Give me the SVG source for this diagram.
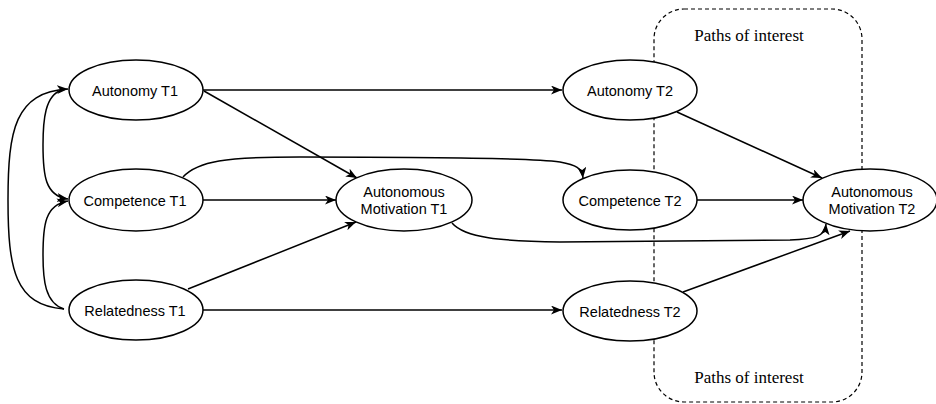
<svg xmlns="http://www.w3.org/2000/svg" width="936" height="404" viewBox="0 0 936 404">
<defs>
<style>
.node ellipse{fill:#fff;stroke:#000;stroke-width:1.5}
.node text{font-family:"Liberation Sans",Arial,sans-serif;font-size:14.5px;fill:#000;text-anchor:middle}
.edge{fill:none;stroke:#000;stroke-width:1.5;marker-end:url(#arr)}
.box{fill:none;stroke:#000;stroke-width:1.2;stroke-dasharray:4 3}
.lbl{font-family:"Liberation Serif","Times New Roman",serif;font-size:17px;fill:#000;text-anchor:middle}
</style>
<marker id="arr" markerUnits="userSpaceOnUse" markerWidth="12" markerHeight="10" refX="11" refY="4.5" orient="auto">
<path d="M0,0 L11,4.5 L0,9 L3,4.5 Z" fill="#000"/>
</marker>
</defs>
<rect width="936" height="404" fill="#fff"/>
<g id="paths-of-interest">
<rect class="box" x="654" y="9" width="208" height="393" rx="30" ry="30"/>
<text class="lbl" x="749" y="41">Paths of interest</text>
<text class="lbl" x="749" y="383">Paths of interest</text>
</g>
<g id="connectors">
<path class="edge" d="M203,90 L562,90"/>
<path class="edge" d="M204,91 L357,178"/>
<path class="edge" d="M203,200 L336,200"/>
<path class="edge" d="M188,289 L356,222"/>
<path class="edge" d="M203,310 L562,310"/>
<path class="edge" d="M183,177 C198,161 225,157 300,157 C420,157 530,158 560,162 C576,165 582,168 583,178"/>
<path class="edge" d="M452,223 C465,238 500,241 560,242 L790,240 C816,239 825,236 826,224"/>
<path class="edge" d="M677,112 L822,178"/>
<path class="edge" d="M697,200 L803,200"/>
<path class="edge" d="M683,292 L850,231"/>
<path class="edge" d="M64,309 C15,305 8,270 8,200 C8,130 15,92 68,89"/>
<path class="edge" d="M62,90 C45,95 43,120 43,145 C43,175 45,196 68,199"/>
<path class="edge" d="M64,309 C45,303 43,280 43,255 C43,225 45,205 68,201"/>
</g>
<g id="autonomy-t1" class="node"><ellipse cx="136" cy="90" rx="67" ry="30"/><text x="135" y="96">Autonomy T1</text></g>
<g id="competence-t1" class="node"><ellipse cx="136" cy="200" rx="67" ry="31"/><text x="135" y="206">Competence T1</text></g>
<g id="relatedness-t1" class="node"><ellipse cx="136" cy="310" rx="67" ry="30"/><text x="135" y="316">Relatedness T1</text></g>
<g id="autonomous-motivation-t1" class="node"><ellipse cx="404" cy="200" rx="68" ry="31"/><text x="404" y="197">Autonomous</text><text x="404" y="214">Motivation T1</text></g>
<g id="autonomy-t2" class="node"><ellipse cx="630" cy="90" rx="67" ry="30"/><text x="630" y="96">Autonomy T2</text></g>
<g id="competence-t2" class="node"><ellipse cx="630" cy="200" rx="67" ry="30"/><text x="630" y="206">Competence T2</text></g>
<g id="relatedness-t2" class="node"><ellipse cx="630" cy="311" rx="67" ry="30"/><text x="630" y="317">Relatedness T2</text></g>
<g id="autonomous-motivation-t2" class="node"><ellipse cx="870" cy="200" rx="67" ry="31"/><text x="872" y="197">Autonomous</text><text x="872" y="214">Motivation T2</text></g>
</svg>
